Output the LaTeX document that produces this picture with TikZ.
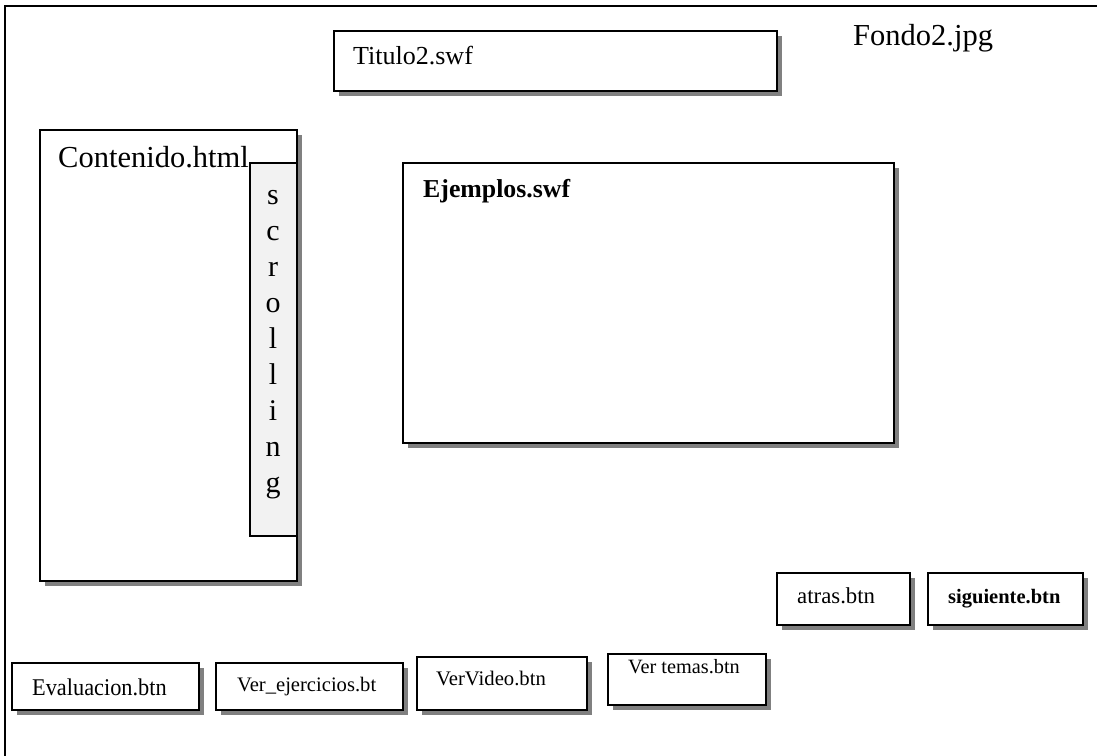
\documentclass[tikz,border=0pt]{standalone}
\usepackage{fontspec}
\setmainfont{Liberation Serif}
\usetikzlibrary{shadows}

\newcommand{\fs}[1]{\fontsize{#1bp}{1.15\dimexpr#1bp\relax}\selectfont}

\tikzset{
  frameline/.style={line width=1.8bp, black},
  panel/.style={draw=black, line width=1.8bp, fill=white, inner sep=0pt,
    anchor=north west,
    drop shadow={shadow xshift=5.5bp, shadow yshift=-5.5bp, fill=black!50, opacity=1}},
  scrollbar/.style={draw=black, line width=1.8bp, fill=black!5, inner sep=0pt,
    anchor=north west},
  label/.style={inner sep=0pt, anchor=base west, text=black},
}

\begin{document}
\begin{tikzpicture}[x=1bp, y=-1bp]
  \useasboundingbox (0,0) rectangle (1097,756);

  % page frame (open on the right and at the bottom)
  \coordinate (fr) at (1097,6);
  \coordinate (fc) at (5,6);
  \coordinate (fb) at (5,756);
  \draw[frameline] (fr) -- (fc) -- (fb);

  % background image name
  \node[label, font=\fs{30.5}] (fondo) at (853,46) {Fondo2.jpg};

  % title bar
  \node[panel, minimum width=443bp, minimum height=60bp] (titulo) at (333,30) {};
  \node[label, font=\fs{26}] (tituloT) at (353,65) {Titulo2.swf};

  % content panel with scroll bar
  \node[panel, minimum width=257bp, minimum height=451bp] (contenido) at (39,129) {};
  \node[scrollbar, minimum width=47bp, minimum height=373bp] (scroll) at (249,162) {};
  \node[label, font=\fs{30.5}] (contenidoT) at (58,167) {Contenido.html};
  \foreach \ch [count=\i from 0] in {s,c,r,o,l,l,i,n,g}
    \node[inner sep=0pt, anchor=base, font=\fs{30}] (sc\i) at (273,{204+36*\i}) {\ch};

  % examples area
  \node[panel, minimum width=491bp, minimum height=280bp] (ejemplos) at (402,162) {};
  \node[label, font=\fs{25.8}\bfseries] (ejemplosT) at (423,197) {Ejemplos.swf};

  % navigation buttons
  \node[panel, minimum width=133bp, minimum height=52bp] (atras) at (776,572) {};
  \node[label, font=\fs{22.8}] (atrasT) at (797,603) {atras.btn};
  \node[panel, minimum width=155bp, minimum height=52bp] (siguiente) at (927,572) {};
  \node[label, font=\fs{20.5}\bfseries] (siguienteT) at (948,603) {siguiente.btn};

  % bottom menu buttons
  \node[panel, minimum width=187bp, minimum height=47bp] (evaluacion) at (11,662) {};
  \node[label, font=\fs{24}, xscale=0.93] (evaluacionT) at (32,695) {Evaluacion.btn};
  \node[panel, minimum width=187bp, minimum height=47bp] (ejercicios) at (215,662) {};
  \node[label, font=\fs{20.6}] (ejerciciosT) at (237,691) {Ver\_ejercicios.bt};
  \node[panel, minimum width=170bp, minimum height=53bp] (video) at (416,656) {};
  \node[label, font=\fs{20.7}] (videoT) at (436,685) {VerVideo.btn};
  \node[panel, minimum width=158bp, minimum height=51bp] (temas) at (607,653) {};
  \node[label, font=\fs{20.3}] (temasT) at (628,673) {Ver temas.btn};
\end{tikzpicture}
\end{document}
